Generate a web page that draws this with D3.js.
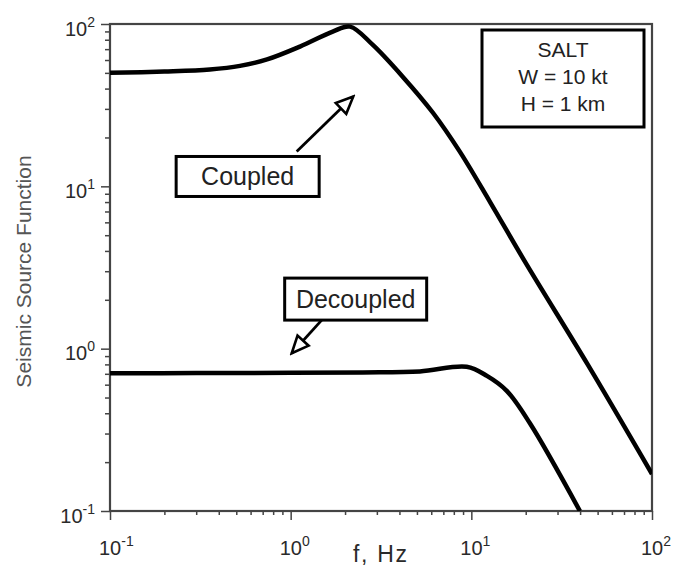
<!DOCTYPE html>
<html><head><meta charset="utf-8">
<script src="https://cdn.jsdelivr.net/npm/d3@7"></script>
<style>
body{margin:0;background:#fff}
svg{display:block}
text{font-family:"Liberation Sans",Arial,Helvetica,sans-serif}
</style>
</head><body>
<svg id="c" width="676" height="569"></svg>
<script>
// ---- data ----
const coupledF = [0.1, 0.2, 0.357, 0.524, 0.74, 1.126, 1.71, 2.13, 2.85, 4.18, 6.13, 8.65, 12.7, 20.3, 44.2, 100];
const coupledV = [50, 51, 52.5, 55.2, 60.5, 72.6, 89.8, 96.4, 74.3, 47.2, 28.4, 16.3, 8.0, 3.28, 0.794, 0.169];
const decoupledF = [0.1, 0.3, 1, 2.5, 5.19, 9.42, 12.2, 15.7, 21.1, 39.9];
const decoupledV = [0.705, 0.707, 0.71, 0.714, 0.724, 0.774, 0.68, 0.55, 0.347, 0.1];
const xTickExps = [-1, 0, 1, 2];
const yTickExps = [-1, 0, 1, 2];
const xLabel = "f, Hz";
const yLabel = "Seismic Source Function";
const infoLines = ["SALT", "W = 10 kt", "H = 1 km"];
const annCoupled = {text: "Coupled", f: 0.578, v: 11.5, tailF: 1.08, tailV: 16.4, tipF: 2.22, tipV: 35.7};
const annDecoupled = {text: "Decoupled", f: 2.29, v: 2.02, tailF: 1.485, tailV: 1.50, tipF: 1.013, tipV: 0.937};

// ---- layout ----
const L = 110, R = 652, T = 24, B = 511;
const svg = d3.select("#c");
const x = d3.scaleLog().domain([0.1, 100]).range([L, R]);
const y = d3.scaleLog().domain([0.1, 100]).range([B, T]);

const majors = xTickExps.map(e => Math.pow(10, e));
const minors = [];
for (let e = -1; e < 2; e++) for (let k = 2; k <= 9; k++) minors.push(k * Math.pow(10, e));

const axisColor = "#444";
function styleAxis(g) {
  g.select(".domain").remove();
  g.selectAll(".tick line").attr("stroke", axisColor).attr("stroke-width", 1.5);
  g.selectAll(".tick text").remove();
}
svg.append("g").attr("transform", `translate(0,${B})`)
  .call(d3.axisBottom(x).tickValues(majors).tickSize(9).tickFormat("")).call(styleAxis);
svg.append("g").attr("transform", `translate(0,${B})`)
  .call(d3.axisBottom(x).tickValues(minors).tickSize(4).tickFormat("")).call(styleAxis);
svg.append("g").attr("transform", `translate(${L},0)`)
  .call(d3.axisLeft(y).tickValues(yTickExps.map(e => Math.pow(10, e))).tickSize(9).tickFormat("")).call(styleAxis);
svg.append("g").attr("transform", `translate(${L},0)`)
  .call(d3.axisLeft(y).tickValues(minors).tickSize(5).tickFormat("")).call(styleAxis);

// frame
svg.append("rect").attr("x", L).attr("y", T).attr("width", R - L).attr("height", B - T)
  .attr("fill", "none").attr("stroke", axisColor).attr("stroke-width", 2.2);

// tick labels
const labColor = "#2a2a2a";
xTickExps.forEach(e => {
  const t = svg.append("text").attr("x", x(Math.pow(10, e)) - 11).attr("y", B + 44)
    .attr("fill", labColor).attr("font-size", 20);
  t.append("tspan").text("10");
  t.append("tspan").attr("font-size", 14).attr("dy", -9).text(e === -1 ? "-1" : String(e));
});
yTickExps.forEach(e => {
  const t = svg.append("text").attr("x", 95).attr("y", y(Math.pow(10, e)) + 11.5)
    .attr("fill", labColor).attr("font-size", 20).attr("text-anchor", "end");
  t.append("tspan").text("10");
  t.append("tspan").attr("font-size", 14).attr("dy", -9).text(e === -1 ? "-1" : String(e));
});

// axis titles
svg.append("text").attr("x", 353).attr("y", 562).attr("font-size", 23).attr("fill", labColor)
  .attr("textLength", 54).attr("lengthAdjust", "spacing").text(xLabel);
svg.append("text").attr("transform", `translate(31,${(T + B) / 2 + 4}) rotate(-90)`)
  .attr("text-anchor", "middle").attr("font-size", 21).attr("fill", "#555").text(yLabel);

// curves
svg.append("clipPath").attr("id", "clip").append("rect")
  .attr("x", L).attr("y", T - 3).attr("width", R - L).attr("height", B - T + 3);
const line = d3.line().x(d => x(d[0])).y(d => y(d[1])).curve(d3.curveCatmullRom.alpha(0.5));
[[coupledF, coupledV], [decoupledF, decoupledV]].forEach(([fs, vs]) => {
  svg.append("path").datum(fs.map((f, i) => [f, vs[i]]))
    .attr("d", line).attr("fill", "none").attr("stroke", "#000")
    .attr("stroke-width", 4.5).attr("stroke-linejoin", "round")
    .attr("clip-path", "url(#clip)");
});

// arrow marker
svg.append("defs").append("marker").attr("id", "arr")
  .attr("markerUnits", "userSpaceOnUse").attr("viewBox", "-2 -10 22 20")
  .attr("refX", 17).attr("refY", 0).attr("markerWidth", 22).attr("markerHeight", 20)
  .attr("orient", "auto")
  .append("path").attr("d", "M0,-7.5L17,0L0,7.5Z")
  .attr("fill", "#fff").attr("stroke", "#000").attr("stroke-width", 2.6).attr("stroke-linejoin", "miter");

function annotate(a, w, h, fs) {
  svg.append("line").attr("x1", x(a.tailF)).attr("y1", y(a.tailV))
    .attr("x2", x(a.tipF)).attr("y2", y(a.tipV))
    .attr("stroke", "#000").attr("stroke-width", 2.8).attr("marker-end", "url(#arr)");
  const cx = x(a.f), cy = y(a.v);
  svg.append("rect").attr("x", cx - w / 2).attr("y", cy - h / 2).attr("width", w).attr("height", h)
    .attr("fill", "#fff").attr("stroke", "#000").attr("stroke-width", 3);
  svg.append("text").attr("x", cx).attr("y", cy + fs * 0.36).attr("text-anchor", "middle")
    .attr("font-size", fs).attr("fill", "#222").text(a.text);
}
annotate(annCoupled, 143, 40, 25);
annotate(annDecoupled, 142, 42, 25);

// info box
const bx0 = 482, bx1 = 644, by0 = 30, by1 = 127;
svg.append("rect").attr("x", bx0).attr("y", by0).attr("width", bx1 - bx0).attr("height", by1 - by0)
  .attr("fill", "#fff").attr("stroke", "#000").attr("stroke-width", 3);
infoLines.forEach((s, i) => {
  svg.append("text").attr("x", (bx0 + bx1) / 2).attr("y", 57 + i * 26.8)
    .attr("text-anchor", "middle").attr("font-size", 21).attr("fill", "#222").text(s);
});
</script>
</body></html>
